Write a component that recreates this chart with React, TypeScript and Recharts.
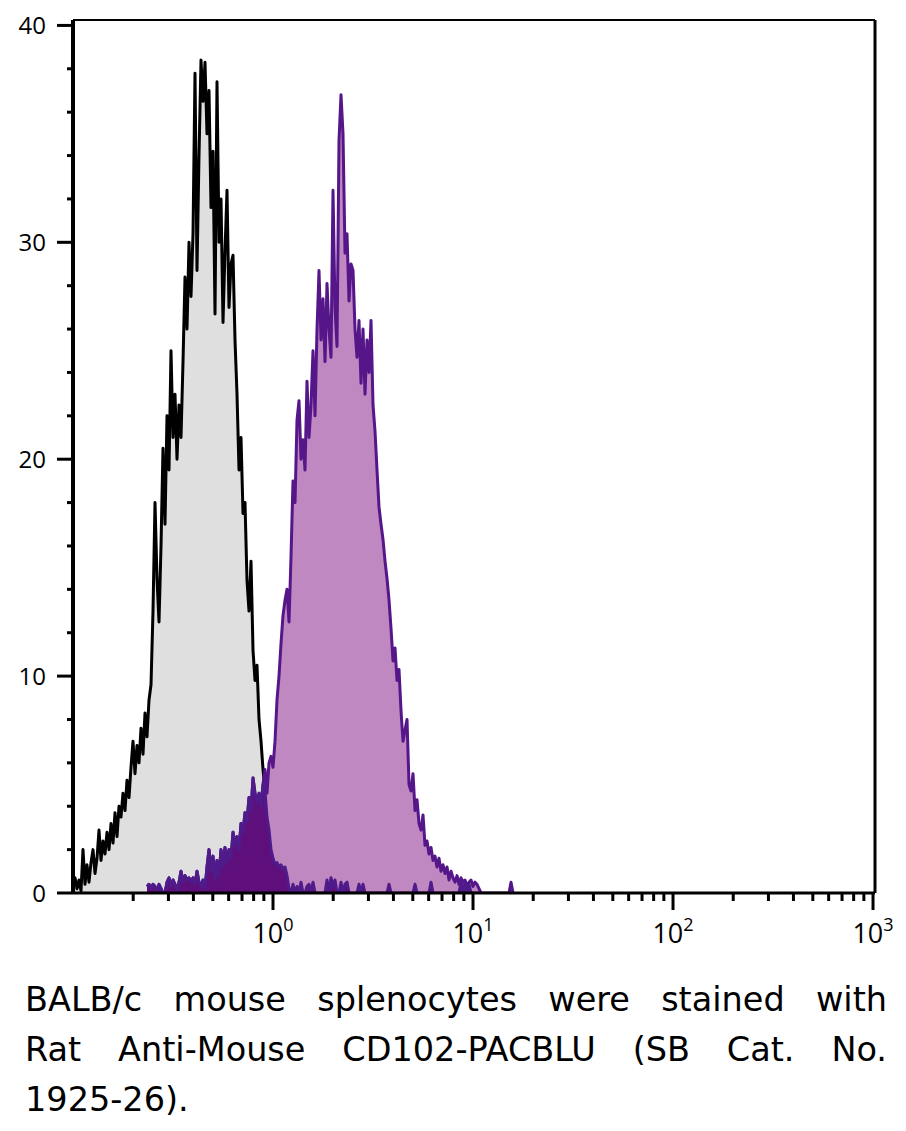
import React from "react";
import { ComposedChart, Area, XAxis, YAxis, ReferenceLine } from "recharts";

// Histogram channels: channel i sits at 10^(FIRST_DECADE + i / CHANNELS_PER_DECADE)
const CHANNELS_PER_DECADE = 100;
const FIRST_DECADE = -1;

// Isotype control (grey filled, black outline), from channel 0
const grayCounts = [
  0.3, 0.7, 0.2, 0.6, 0.1, 2.0, 0.4, 1.3, 0.5, 1.4,
  2.0, 0.9, 1.6, 2.9, 1.5, 2.4, 1.8, 2.8, 2.0, 3.2,
  2.3, 3.7, 2.6, 4.0, 3.5, 4.6, 3.8, 5.2, 4.4, 5.8,
  7.0, 5.5, 6.8, 6.0, 7.6, 6.4, 8.3, 7.2, 8.9, 9.6,
  13.0, 18.0, 14.5, 12.5, 16.0, 20.5, 17.0, 22.0, 19.5, 25.0,
  21.0, 23.0, 20.0, 22.5, 21.0, 24.5, 28.4, 26.0, 30.0, 27.5,
  30.4, 37.8, 28.7, 34.0, 38.4, 36.5, 38.3, 35.0, 37.0, 31.6,
  34.2, 26.7, 37.4, 30.0, 32.0, 26.3, 29.6, 32.4, 27.0, 29.0,
  29.4, 25.5, 23.0, 19.5, 21.0, 17.5, 18.0, 14.4, 13.0, 15.3,
  11.2, 9.8, 10.5, 8.0, 7.0, 5.7, 4.7, 3.5, 2.9, 2.0,
  1.6, 1.3, 1.4, 1.2, 1.3, 1.1, 1.2, 0.8, 0.2, 0,
  0.4, 0, 0.3, 0, 0.5, 0, 0, 0.3, 0.4, 0,
  0.5, 0, 0, 0, 0, 0, 0, 0.6, 0, 0.7,
  0.3, 0.6, 0, 0, 0.5, 0, 0.4, 0.5, 0, 0,
  0, 0, 0, 0.4, 0, 0.4, 0, 0, 0, 0,
  0, 0, 0, 0, 0, 0, 0, 0, 0.4, 0,
  0, 0, 0, 0, 0, 0, 0, 0, 0, 0,
  0, 0.4, 0, 0, 0, 0, 0, 0, 0, 0.5,
  0, 0, 0, 0, 0, 0, 0, 0, 0, 0,
  0, 0, 0, 0, 0.5, 0, 0.5, 0, 0.4, 0,
  0, 0, 0, 0,
];

// CD102-PACBLU stained sample (purple), starting at channel PURPLE_START
const PURPLE_START = 37;
const purpleCounts = [
  0.3, 0.4, 0.2, 0.4, 0.3, 0.1, 0.4, 0.2, 0, 0,
  0.5, 0.7, 0.3, 0.6, 0.4, 0.1, 0.5, 1.0, 0.5, 0.8,
  0.6, 0.7, 0.5, 0.7, 0.4, 1.0, 0.5, 0.3, 0.6, 0.2,
  1.2, 2.0, 1.0, 1.7, 0.6, 1.5, 0.8, 2.0, 1.2, 2.1,
  1.4, 2.0, 1.6, 2.8, 2.2, 2.6, 2.0, 3.2, 2.8, 3.7,
  3.3, 4.4, 3.8, 5.3, 4.6, 4.2, 4.6, 4.0, 5.0, 5.7,
  4.6, 6.0, 6.3, 5.8, 7.0, 8.9, 10.0, 11.5, 12.8, 13.5,
  14.0, 12.5, 15.5, 19.0, 18.0, 21.8, 22.7, 20.0, 20.9, 19.5,
  23.6, 21.0, 22.5, 25.0, 22.0, 26.0, 28.7, 25.5, 27.4, 24.5,
  28.1, 26.0, 24.7, 32.4, 27.0, 25.2, 34.7, 36.8, 35.0, 29.5,
  30.4, 27.3, 29.0, 28.7, 26.0, 24.7, 26.4, 23.5, 26.0, 23.0,
  25.5, 24.0, 26.4, 22.5, 21.3, 19.5, 17.8, 17.0, 16.3, 15.3,
  14.5, 13.5, 12.2, 10.7, 11.3, 9.8, 10.3, 8.4, 7.0, 7.5,
  8.0, 5.0, 4.7, 5.5, 3.8, 4.3, 3.2, 2.9, 3.6, 2.2,
  2.4, 1.8, 2.1, 1.5, 1.7, 1.2, 1.6, 1.0, 1.3, 0.9,
  1.2, 0.6, 1.0, 0.7, 0.5, 0.8, 0.4, 0.7, 0.5, 0.6,
  0.3, 0.5, 0.6, 0.3, 0.5, 0.4, 0.2, 0, 0, 0,
  0, 0, 0, 0, 0, 0, 0, 0, 0, 0,
  0, 0, 0.5, 0,
];

const X_MIN = 0.1;
const X_MAX = 1023;
const Y_MAX = 40.25;

const xTicks = [
  0.2, 0.3, 0.4, 0.5, 0.6, 0.7, 0.8, 0.9,
  1, 2, 3, 4, 5, 6, 7, 8, 9,
  10, 20, 30, 40, 50, 60, 70, 80, 90,
  100, 200, 300, 400, 500, 600, 700, 800, 900,
  1000,
];
const xMajorTicks = [1, 10, 100, 1000];
const xMajorExponents = ["0", "1", "2", "3"];

const yTicks = [0, 2, 4, 6, 8, 10, 12, 14, 16, 18, 20, 22, 24, 26, 28, 30, 32, 34, 36, 38, 40];
const yMajorTicks = [0, 10, 20, 30, 40];

const captionLines = [
  "BALB/c mouse splenocytes were stained with",
  "Rat Anti-Mouse CD102-PACBLU (SB Cat. No.",
  "1925-26).",
];

const FONT = "'Open Sans', 'Noto Sans', sans-serif";
const CAPTION_FONT = "'DejaVu Sans', 'Open Sans', sans-serif";

const total = Math.max(grayCounts.length, PURPLE_START + purpleCounts.length);
const rows = Array.from({ length: total }, (_, i) => {
  const g = i < grayCounts.length ? grayCounts[i] : null;
  const pi = i - PURPLE_START;
  const p = pi >= 0 && pi < purpleCounts.length ? purpleCounts[pi] : null;
  return {
    x: Math.pow(10, FIRST_DECADE + i / CHANNELS_PER_DECADE),
    gray: g,
    purple: p,
    overlap: g != null && p != null ? Math.min(g, p) : null,
  };
});

const XTick = (props: any) => {
  const { x, y, payload } = props;
  const v = payload.value;
  const mi = xMajorTicks.indexOf(v);
  const major = mi >= 0;
  return (
    <g>
      <line x1={x} x2={x} y1={y} y2={y + (major ? 17 : 8)} stroke="#000" strokeWidth={3} />
      {major && (
        <text x={x} y={y + 50} textAnchor="middle" fontFamily={FONT} fontSize={27} fill="#000">
          <tspan>10</tspan>
          <tspan dy={-12} fontSize={18}>{xMajorExponents[mi]}</tspan>
        </text>
      )}
    </g>
  );
};

const YTick = (props: any) => {
  const { x, y, payload } = props;
  const v = payload.value;
  const major = yMajorTicks.indexOf(v) >= 0;
  return (
    <g>
      <line x1={x - (major ? 16 : 6)} x2={x} y1={y} y2={y} stroke="#000" strokeWidth={3} />
      {major && (
        <text x={x - 27} y={y} dy="0.36em" textAnchor="end" fontFamily={FONT} fontSize={24} fill="#000">
          {v}
        </text>
      )}
    </g>
  );
};

export default function App() {
  return (
    <div style={{ position: "absolute", left: 0, top: 0, width: 906, height: 1131, background: "#fff" }}>
      <ComposedChart
        width={906}
        height={960}
        data={rows}
        margin={{ top: 20, right: 31, bottom: 0, left: 0 }}
      >
        <Area
          type="linear"
          dataKey="gray"
          fill="#dfdfdf"
          fillOpacity={1}
          stroke="#000"
          strokeWidth={3}
          strokeLinejoin="round"
          dot={false}
          activeDot={false}
          isAnimationActive={false}
        />
        <Area
          type="linear"
          dataKey="purple"
          fill="#c088c0"
          fillOpacity={1}
          stroke="#55168a"
          strokeWidth={3}
          strokeLinejoin="round"
          dot={false}
          activeDot={false}
          isAnimationActive={false}
        />
        <Area
          type="linear"
          dataKey="overlap"
          fill="#5e0f7c"
          fillOpacity={1}
          stroke="#4f1a8a"
          strokeWidth={3}
          strokeLinejoin="round"
          dot={false}
          activeDot={false}
          isAnimationActive={false}
        />
        <ReferenceLine y={Y_MAX} stroke="#000" strokeWidth={2} />
        <ReferenceLine x={X_MAX} stroke="#000" strokeWidth={3} />
        <XAxis
          dataKey="x"
          type="number"
          scale="log"
          domain={[X_MIN, X_MAX]}
          allowDataOverflow
          ticks={xTicks}
          interval={0}
          tick={<XTick />}
          tickLine={false}
          tickSize={0}
          tickMargin={0}
          axisLine={{ stroke: "#000", strokeWidth: 3 }}
          height={67}
        />
        <YAxis
          type="number"
          domain={[0, Y_MAX]}
          allowDataOverflow
          ticks={yTicks}
          interval={0}
          tick={<YTick />}
          tickLine={false}
          tickSize={0}
          tickMargin={0}
          axisLine={{ stroke: "#000", strokeWidth: 4 }}
          width={73}
        />
      </ComposedChart>
      <div
        style={{
          position: "absolute",
          left: 25,
          top: 975,
          width: 862,
          fontFamily: CAPTION_FONT,
          fontSize: 33.5,
          lineHeight: "50px",
          color: "#000",
        }}
      >
        {captionLines.map((line, i) => (
          <div
            key={i}
            style={{
              textAlign: i < captionLines.length - 1 ? "justify" : "left",
              textAlignLast: i < captionLines.length - 1 ? "justify" : "left",
              whiteSpace: "nowrap",
            }}
          >
            {line}
          </div>
        ))}
      </div>
    </div>
  );
}
